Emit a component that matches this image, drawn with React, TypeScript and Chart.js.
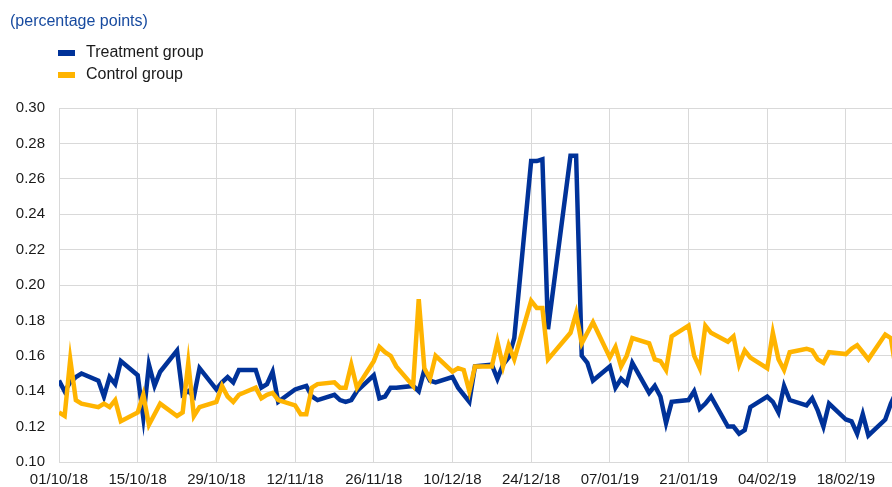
import React, { useEffect, useRef } from "react";
import { Chart, registerables } from "chart.js";

Chart.register(...registerables);

// ---- data -----------------------------------------------------------------
const TITLE = "(percentage points)";
const START_DATE = "2018-10-01";

const dates = [
  "2018-10-01", "2018-10-02", "2018-10-03", "2018-10-04", "2018-10-05",
  "2018-10-08", "2018-10-09", "2018-10-10", "2018-10-11", "2018-10-12",
  "2018-10-15", "2018-10-16", "2018-10-17", "2018-10-18", "2018-10-19",
  "2018-10-22", "2018-10-23", "2018-10-24", "2018-10-25", "2018-10-26",
  "2018-10-29", "2018-10-30", "2018-10-31",
  "2018-11-01", "2018-11-02",
  "2018-11-05", "2018-11-06", "2018-11-07", "2018-11-08", "2018-11-09",
  "2018-11-12", "2018-11-13", "2018-11-14", "2018-11-15", "2018-11-16",
  "2018-11-19", "2018-11-20", "2018-11-21", "2018-11-22", "2018-11-23",
  "2018-11-26", "2018-11-27", "2018-11-28", "2018-11-29", "2018-11-30",
  "2018-12-03", "2018-12-04", "2018-12-05", "2018-12-06", "2018-12-07",
  "2018-12-10", "2018-12-11", "2018-12-12", "2018-12-13", "2018-12-14",
  "2018-12-17", "2018-12-18", "2018-12-19", "2018-12-20", "2018-12-21",
  "2018-12-24", "2018-12-25", "2018-12-26", "2018-12-27", "2018-12-31",
  "2019-01-01", "2019-01-02", "2019-01-03", "2019-01-04",
  "2019-01-07", "2019-01-08", "2019-01-09", "2019-01-10", "2019-01-11",
  "2019-01-14", "2019-01-15", "2019-01-16", "2019-01-17", "2019-01-18",
  "2019-01-21", "2019-01-22", "2019-01-23", "2019-01-24", "2019-01-25",
  "2019-01-28", "2019-01-29", "2019-01-30", "2019-01-31",
  "2019-02-01",
  "2019-02-04", "2019-02-05", "2019-02-06", "2019-02-07", "2019-02-08",
  "2019-02-11", "2019-02-12", "2019-02-13", "2019-02-14", "2019-02-15",
  "2019-02-18", "2019-02-19", "2019-02-20", "2019-02-21", "2019-02-22",
  "2019-02-25", "2019-02-26", "2019-02-27",
];

const treatment = [
  // Oct
  0.146, 0.140, 0.145, 0.148, 0.150, 0.146, 0.137, 0.148, 0.144, 0.157,
  0.149, 0.125, 0.155, 0.143, 0.151, 0.163, 0.138, 0.140, 0.137, 0.153,
  0.141, 0.145, 0.148,
  // Nov
  0.145, 0.152, 0.152, 0.142, 0.144, 0.151, 0.134, 0.141, 0.142, 0.143,
  0.137, 0.135, 0.138, 0.135, 0.134, 0.135, 0.140, 0.149, 0.136, 0.137,
  0.142, 0.142,
  // Dec
  0.143, 0.140, 0.152, 0.146, 0.145, 0.148, 0.142, 0.138, 0.134, 0.154,
  0.155, 0.147, 0.155, 0.159, 0.170, 0.270, 0.270, 0.271, 0.175, 0.273,
  // Jan
  0.273, 0.160, 0.156, 0.146, 0.154, 0.142, 0.147, 0.144, 0.156, 0.139,
  0.143, 0.137, 0.122, 0.134, 0.135, 0.140, 0.130, 0.133, 0.137, 0.120,
  0.120, 0.116, 0.118,
  // Feb
  0.131, 0.137, 0.134, 0.128, 0.143, 0.135, 0.132, 0.136, 0.129, 0.120,
  0.133, 0.124, 0.123, 0.116, 0.127, 0.115, 0.124, 0.133, 0.140,
];

const control = [
  // Oct
  0.128, 0.126, 0.158, 0.135, 0.133, 0.131, 0.133, 0.131, 0.135, 0.123,
  0.128, 0.138, 0.121, 0.127, 0.133, 0.126, 0.128, 0.156, 0.126, 0.131,
  0.134, 0.143, 0.137,
  // Nov
  0.134, 0.138, 0.142, 0.136, 0.138, 0.139, 0.135, 0.132, 0.127, 0.127,
  0.142, 0.144, 0.145, 0.142, 0.142, 0.155, 0.142, 0.157, 0.165, 0.162,
  0.160, 0.154,
  // Dec
  0.143, 0.192, 0.153, 0.147, 0.160, 0.151, 0.153, 0.152, 0.140, 0.154,
  0.154, 0.168, 0.154, 0.166, 0.158, 0.191, 0.187, 0.187, 0.158, 0.173,
  // Jan
  0.184, 0.167, 0.173, 0.179, 0.159, 0.165, 0.154, 0.160, 0.170, 0.167,
  0.158, 0.157, 0.152, 0.171, 0.177, 0.160, 0.153, 0.177, 0.173, 0.168,
  0.171, 0.155, 0.163,
  // Feb
  0.159, 0.153, 0.173, 0.158, 0.152, 0.162, 0.164, 0.163, 0.158, 0.156,
  0.162, 0.161, 0.164, 0.166, 0.162, 0.158, 0.172, 0.170, 0.150,
];

const seriesLabels = ["Treatment group", "Control group"];
const seriesColors = ["#003299", "#FFB400"];

// axis settings (days since START_DATE)
const X_MIN_DAYS = 0;
const X_MAX_DAYS = 148.2;
const X_TICK_STEP_DAYS = 14;
const Y_MIN = 0.1;
const Y_MAX = 0.3;
const Y_STEP = 0.02;

// ---- helpers --------------------------------------------------------------
const DAY_MS = 86400000;
const startMs = Date.parse(START_DATE + "T00:00:00Z");
const dayOffset = (iso: string) =>
  Math.round((Date.parse(iso + "T00:00:00Z") - startMs) / DAY_MS);
const fmtDate = (days: number) => {
  const d = new Date(startMs + days * DAY_MS);
  const dd = String(d.getUTCDate()).padStart(2, "0");
  const mm = String(d.getUTCMonth() + 1).padStart(2, "0");
  const yy = String(d.getUTCFullYear() % 100).padStart(2, "0");
  return `${dd}/${mm}/${yy}`;
};

const FONT = '"Liberation Sans", Arial, Helvetica, sans-serif';
const TEXT_COLOR = "#1a1a1a";
const TITLE_COLOR = "#174a9f";
const GRID_COLOR = "#d9d9d9";

const overlayPlugin = {
  id: "overlayTitleLegend",
  afterDraw(chart: any) {
    const ctx = chart.ctx;
    ctx.save();
    ctx.font = `16px ${FONT}`;
    ctx.textBaseline = "middle";
    ctx.textAlign = "left";
    ctx.fillStyle = TITLE_COLOR;
    ctx.fillText(TITLE, 10, 22);
    seriesLabels.forEach((label, i) => {
      const y = 53 + i * 22;
      ctx.fillStyle = seriesColors[i];
      ctx.fillRect(58, y - 3, 17, 6);
      ctx.fillStyle = TEXT_COLOR;
      ctx.fillText(label, 86, y);
    });
    ctx.restore();
  },
};

export default function App() {
  const canvasRef = useRef<HTMLCanvasElement | null>(null);

  useEffect(() => {
    if (!canvasRef.current) return;
    const xs = dates.map(dayOffset);
    const chart = new Chart(canvasRef.current, {
      type: "line",
      data: {
        datasets: [
          {
            label: seriesLabels[0],
            data: xs.map((x, i) => ({ x, y: treatment[i] })),
            borderColor: seriesColors[0],
            backgroundColor: seriesColors[0],
            borderWidth: 4.5,
            pointRadius: 0,
            tension: 0,
            order: 2,
          },
          {
            label: seriesLabels[1],
            data: xs.map((x, i) => ({ x, y: control[i] })),
            borderColor: seriesColors[1],
            backgroundColor: seriesColors[1],
            borderWidth: 4.5,
            pointRadius: 0,
            tension: 0,
            order: 1,
          },
        ],
      },
      options: {
        animation: false,
        responsive: false,
        maintainAspectRatio: false,
        devicePixelRatio: 1,
        layout: { padding: { top: 108, left: 0, right: 0, bottom: 0 } },
        plugins: {
          legend: { display: false },
          title: { display: false },
          tooltip: { enabled: false },
        },
        scales: {
          x: {
            type: "linear",
            min: X_MIN_DAYS,
            max: X_MAX_DAYS,
            grid: { color: GRID_COLOR, lineWidth: 1, drawTicks: false },
            border: { display: true, color: GRID_COLOR, width: 1 },
            ticks: {
              stepSize: X_TICK_STEP_DAYS,
              includeBounds: false,
              autoSkip: false,
              maxRotation: 0,
              padding: 9,
              color: TEXT_COLOR,
              font: { family: FONT, size: 15 },
              callback: (v: any) => fmtDate(Number(v)),
            },
            afterFit: (scale: any) => {
              scale.height = 25;
              scale.paddingLeft = 0;
              scale.paddingRight = 0;
            },
          },
          y: {
            type: "linear",
            min: Y_MIN,
            max: Y_MAX,
            grid: { color: GRID_COLOR, lineWidth: 1, drawTicks: false },
            border: { display: true, color: GRID_COLOR, width: 1 },
            ticks: {
              stepSize: Y_STEP,
              padding: 14,
              color: TEXT_COLOR,
              font: { family: FONT, size: 15 },
              callback: (v: any) => Number(v).toFixed(2),
            },
            afterFit: (scale: any) => {
              scale.width = 59;
              scale.paddingTop = 0;
              scale.paddingBottom = 0;
            },
          },
        },
      },
      plugins: [overlayPlugin],
    });
    return () => chart.destroy();
  }, []);

  return (
    <div
      style={{
        position: "fixed",
        left: 0,
        top: 0,
        width: 892,
        height: 487,
        background: "#ffffff",
      }}
    >
      <canvas
        ref={canvasRef}
        width={892}
        height={487}
        style={{ display: "block", width: 892, height: 487 }}
      />
    </div>
  );
}
